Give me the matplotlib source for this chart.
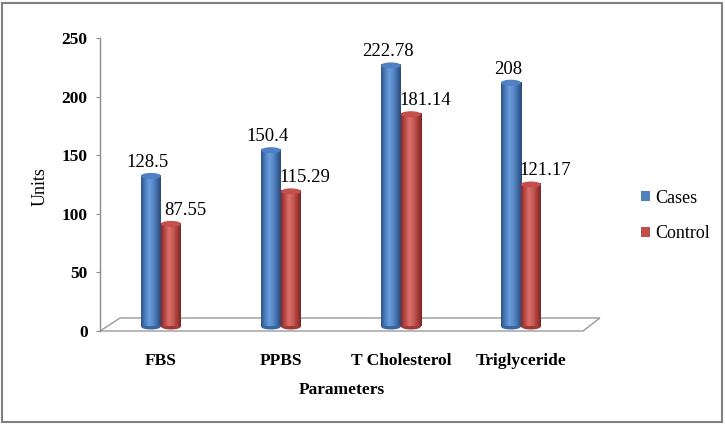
import numpy as np
import matplotlib
matplotlib.use("Agg")
import matplotlib.pyplot as plt
from matplotlib.patches import Ellipse, Polygon, Rectangle, Patch
from matplotlib.colors import LinearSegmentedColormap
import matplotlib.transforms as mtransforms

categories = ["FBS", "PPBS", "T Cholesterol", "Triglyceride"]
cases = [128.5, 150.4, 222.78, 208]
control = [87.55, 115.29, 181.14, 121.17]
case_labels = ["128.5", "150.4", "222.78", "208"]
control_labels = ["87.55", "115.29", "181.14", "121.17"]
yticks = [0, 50, 100, 150, 200, 250]

plt.rcParams['font.family'] = ['Liberation Serif', 'DejaVu Serif']

W, H = 725, 425
fig = plt.figure(figsize=(W / 100, H / 100), dpi=100)
fig.patch.set_facecolor('white')

ax = fig.add_axes([100 / W, (H - 331) / H, 500 / W, 293 / H])
ax.set_facecolor('none')
xmin, xmax = -0.508, -0.508 + 500 / 120
ax.set_xlim(xmin, xmax)
ax.set_ylim(0, 250)

px_x = (xmax - xmin) / 500.0
px_y = 250 / 293.0

for s in ['top', 'right', 'bottom']:
    ax.spines[s].set_visible(False)
ax.spines['left'].set_color('#8c8c8c')
ax.spines['left'].set_linewidth(1.0)
ax.set_xticks([])
ax.set_yticks(yticks)
ax.set_yticklabels([str(t) for t in yticks], fontsize=12.5, fontweight='bold')
ax.tick_params(axis='y', direction='out', length=3, color='#8c8c8c', pad=6)

# floor
depth = 13 * px_y
floor = Polygon([(xmin, 0), (xmin + 20 * px_x, depth), (xmax, depth),
                 (xmax - 17 * px_x, 0)], closed=True, facecolor='white',
                edgecolor='#9a9a9a', lw=1.0, zorder=1, clip_on=False)
ax.add_patch(floor)

base = 4.5 * px_y
bw = 20 * px_x
off = 10 * px_x
eh = 6 * px_y

blue_cmap = LinearSegmentedColormap.from_list(
    'b', ['#2f5486', '#4a7cbd', '#6b9bd8', '#5a8ccb', '#3f6ba6', '#284a78'])
red_cmap = LinearSegmentedColormap.from_list(
    'r', ['#8a2a28', '#bb4a47', '#d8716d', '#c85a56', '#a63e3b', '#7c2523'])
grad = np.linspace(0, 1, 64).reshape(1, -1)


def cylinder(xc, v, cmap, top_col, bot_col):
    x0, x1 = xc - bw / 2, xc + bw / 2
    ax.add_patch(Ellipse((xc, base), bw, eh, facecolor=bot_col,
                         edgecolor='none', zorder=2))
    ax.imshow(grad, extent=(x0, x1, base, base + v), aspect='auto',
              cmap=cmap, zorder=3, interpolation='bilinear')
    ax.add_patch(Ellipse((xc, base + v), bw, eh, facecolor=top_col,
                         edgecolor='none', zorder=4))


for i in range(len(categories)):
    cylinder(i - off, cases[i], blue_cmap, '#4f81c4', '#3a659e')
    cylinder(i + off, control[i], red_cmap, '#c44f4b', '#9e3936')
    ax.text(i - off - 3 * px_x, base + cases[i] + 5 * px_y, case_labels[i],
            ha='center', va='bottom', fontsize=13.5, zorder=5)
    ax.text(i + off + 14 * px_x, base + control[i] + 5 * px_y, control_labels[i],
            ha='center', va='bottom', fontsize=13.5, zorder=5)

ax.set_xlim(xmin, xmax)
ax.set_ylim(0, 250)

trans = mtransforms.blended_transform_factory(ax.transData, fig.transFigure)
for i, c in enumerate(categories):
    ax.text(i, 1 - 361 / H, c, transform=trans, ha='center', va='center',
            fontsize=12.5, fontweight='bold')

fig.text(342 / W, 1 - 390 / H, "Parameters", ha='center', va='center',
         fontsize=12.5, fontweight='bold')
fig.text(40 / W, 1 - 187 / H, "Units", ha='center', va='center',
         fontsize=13, rotation=90)

handles = [Patch(facecolor='#4f81bd', edgecolor='none'),
           Patch(facecolor='#c0504d', edgecolor='none')]
fig.legend(handles, ["Cases", "Control"], loc='center left',
           bbox_to_anchor=(632 / W, 1 - 216 / H), frameon=False,
           fontsize=13, handlelength=0.5, handleheight=0.5,
           handletextpad=0.3, labelspacing=1.05, borderpad=0)

fig.add_artist(Rectangle((2 / W, 3 / H), 720 / W, 419 / H,
                         transform=fig.transFigure, fill=False,
                         edgecolor='#808080', lw=1.5))

fig.savefig('out.png', dpi=100)
